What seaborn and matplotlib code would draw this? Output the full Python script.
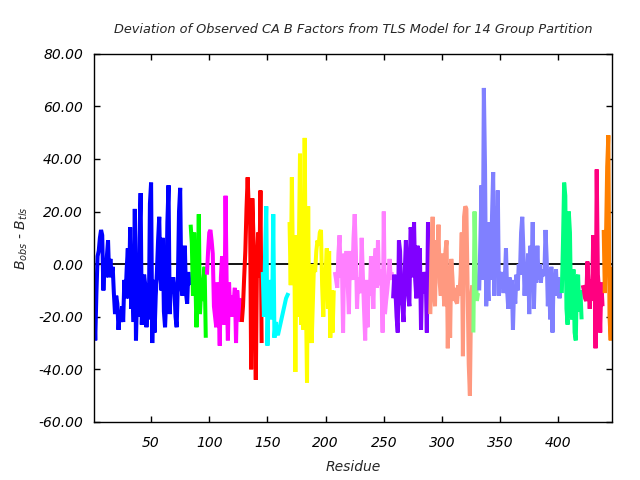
"""Deviation of observed CA B factors from the TLS model, 14 group partition."""

import matplotlib
matplotlib.use("Agg")
import matplotlib.pyplot as plt
import numpy as np
import pandas as pd
import seaborn as sns

# first residue of each TLS group
group_starts = [1, 84, 98, 128, 146, 169, 208, 258, 290, 327, 332, 403, 421, 439]
group_colors = [
    "#0000ff", "#00ff00", "#ff00ff", "#ff0000", "#00ffff", "#ffff00", "#ff80ff",
    "#8000ff", "#ff9980", "#80ff80", "#8080ff", "#00ff80", "#ff0080", "#ff8000",
]

# B_obs - B_tls per residue
g01 = [-15, -29, -11, 3, 5, 10, 13, 11, -10, 2, -5, 3, 9, -5, 2, -4, -1, -11, -19, -12,
       -15, -25, -18, -22, -16, -22, -6, -13, -2, 6, -13, 14, -17, -9, -22, 21, -29, -10,
       -20, 10, 27, -23, -12, -4, -8, -24, -14, -21, 23, 31, -30, -6, -26, -12, -3, 9, 18,
       -5, -10, 10, -18, -24, -13, 16, 30, -19, -8, -11, -5, -9, -20, -24, -7, 20, 29, -9,
       -12, -5, 7, -11, -15, -3, -8]
g02 = [15, 8, -12, 12, -5, -24, -10, 19, -19, -10, -14, -6, -1, -28]
g03 = [-4, 5, 12, 13, 9, 4, -16, -20, -24, -7, -14, -31, -5, 3, -12, -23, 26, -10, -29,
       -7, -18, -12, -20, -14, -9, -30, -10, -16, -13, -22]
g04 = [-22, -16, -5, 5, 21, 33, 20, 23, -40, 25, 10, -15, -44, 0, 12, -5, 28, -30]
g05 = [-3, -20, 5, 22, -31, -10, -16, -6, -21, 19, -28, -22, -26, -27, -25, -23, -21,
       -19, -17, -15, -13, -12, -11]
g06 = [16, -8, 33, -5, 10, -41, 11, -20, 5, 42, -23, 0, -25, 48, -10, -45, 22, -30, 0,
       -30, -15, 0, -3, 5, 9, 7, 12, 13, -8, -20, -2, -3, 6, -17, 5, -28, -10, -26, -10]
g07 = [-3, -6, -9, 4, 11, -5, 0, -26, 4, -5, 5, -8, -19, 5, -3, -6, 10, 19, 5, -17, -5,
       -11, -9, 10, -4, -17, -29, -6, -24, -8, -12, 3, -4, -17, 0, 6, -9, 9, -8, -2, -6,
       -26, 20, -19, -14, -10, -5, 2, -6, -3]
g08 = [-13, -4, -10, -20, -26, 9, 5, -13, -16, -22, -3, 9, -2, -12, -16, 14, 12, -5, 16,
       -6, -13, 7, -2, 6, -25, -3, -11, -6, -3, -26, 16, -5]
g09 = [-19, 5, 18, -10, -16, 9, 0, 15, -7, -12, 4, -8, -16, 5, 9, -32, -1, -28, 2, -5,
       -14, -9, -14, -15, -8, -12, -4, 12, -35, 18, 22, 21, -8, -38, -50, -14, -8]
g10 = [-26, 20, -2, -14, -11]
g11 = [-10, 9, 30, -6, 67, 37, -16, -4, -14, 16, -6, 18, 35, -12, 22, -1, 28, -12, -3,
       -8, -3, -11, -6, 6, -10, -17, -5, -10, -6, -25, -9, -15, -4, -10, 0, -4, 12, 18, 5,
       -12, -2, -8, 4, -19, 7, -3, 16, -17, -1, -7, 7, -6, 0, -7, -2, -4, -4, 13, 2, -16,
       -2, -21, -1, -26, -4, -8, -2, -12, -5, -13, -8]
g12 = [-11, 8, 31, 26, -17, -23, 20, 12, -19, -21, -2, -26, -29, -6, -4, -18, -10, -21]
g13 = [-8, -10, -13, -14, 1, -8, -17, -6, -14, 11, 3, -32, 36, -4, -10, -26, -7, -16]
g14 = [13, -11, 10, 37, 49, -20, -29, -1]

groups = [g01, g02, g03, g04, g05, g06, g07, g08, g09, g10, g11, g12, g13, g14]

frames = []
for i, (start, vals) in enumerate(zip(group_starts, groups)):
    frames.append(pd.DataFrame({
        "residue": np.arange(start, start + len(vals)),
        "dev": vals,
        "group": f"G{i + 1}",
    }))
df = pd.concat(frames, ignore_index=True)
palette = {f"G{i + 1}": c for i, c in enumerate(group_colors)}

sns.set_style("ticks")
plt.rcParams["font.family"] = ["DejaVu Sans"]

fig = plt.figure(figsize=(6.4, 4.8), dpi=100)
ax = fig.add_axes([0.147, 0.121, 0.809, 0.767])

ax.axhline(0, color="black", lw=1.3, zorder=1)
sns.lineplot(
    data=df, x="residue", y="dev", hue="group", palette=palette,
    estimator=None, legend=False, lw=2.9, ax=ax, zorder=2,
    solid_joinstyle="bevel", solid_capstyle="butt",
)

ax.set_xlim(1, 446)
ax.set_ylim(-60, 80)
ax.set_xticks(np.arange(50, 401, 50))
ax.set_yticks(np.arange(-60, 81, 20))
ax.set_yticklabels([f"{v:.2f}" for v in np.arange(-60, 81, 20)])

for side in ["top", "right", "bottom", "left"]:
    ax.spines[side].set_visible(True)
    ax.spines[side].set_color("black")
    ax.spines[side].set_linewidth(1.0)
ax.tick_params(direction="in", length=4, width=1, top=True, right=True,
               labelsize=10, colors="black")
ax.tick_params(axis="x", pad=10)
ax.tick_params(axis="y", pad=8)
for lab in ax.get_xticklabels() + ax.get_yticklabels():
    lab.set_fontstyle("italic")

ax.set_xlabel("Residue", fontsize=10, fontstyle="italic", labelpad=7)
ax.set_ylabel("$B_{obs}$ - $B_{tls}$", fontsize=10, fontstyle="italic", labelpad=6)
ax.set_title("Deviation of Observed CA B Factors from TLS Model for 14 Group Partition",
             fontsize=9.3, fontstyle="italic", pad=15)

fig.savefig("out.png", dpi=100)
